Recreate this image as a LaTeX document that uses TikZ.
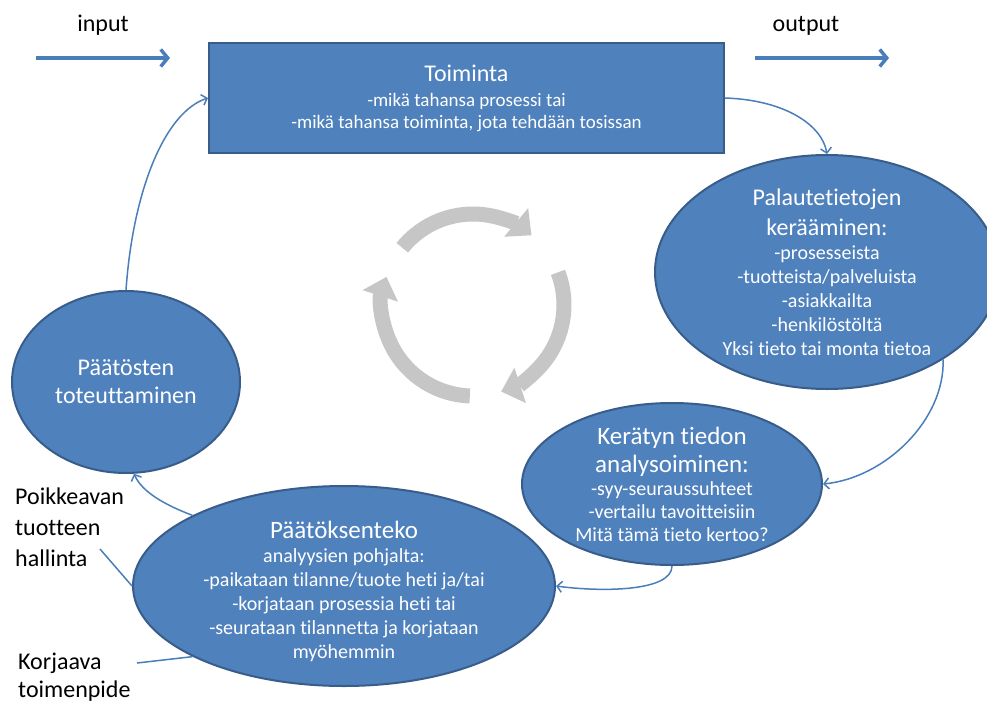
\documentclass[tikz,border=0pt]{standalone}
\usepackage{fontspec}
\setmainfont{Carlito}[Ligatures={NoCommon}]
\usetikzlibrary{arrows.meta,shapes.geometric}
\definecolor{boxblue}{HTML}{4F81BD}
\definecolor{edgeblue}{HTML}{385D8A}
\definecolor{linkblue}{HTML}{4A7EBB}
\definecolor{cyclegray}{HTML}{C6C6C6}
\newcommand\ttl[1]{{\fontsize{24}{24}\selectfont #1}}
\tikzset{
  shapefill/.style={fill=boxblue, draw=edgeblue, line width=2pt},
  ell/.style={shapefill, ellipse, inner sep=0pt},
  intext/.style={text=white, align=center, inner sep=0pt},
  sidelabel/.style={text=black, inner sep=0pt, align=left},
  link/.style={draw=linkblue, line width=1.5pt, -{Straight Barb[length=5pt,width=11pt]}},
  plainlink/.style={draw=linkblue, line width=1.5pt},
  flow/.style={draw=linkblue, line width=3.5pt, -{Straight Barb[length=7pt,width=17pt]}},
  cyc/.style={draw=cyclegray, line width=15pt, -{Triangle[length=20pt,width=36pt]}},
}
\begin{document}
\begin{tikzpicture}[x=1pt,y=-1pt]
\useasboundingbox[fill=white] (0,0) rectangle (987,704);

% input / output
\node[anchor=base, inner sep=0pt, font=\fontsize{24}{28}\selectfont] (inlbl) at (103,31) {input};
\node[anchor=base, inner sep=0pt, font=\fontsize{24}{28}\selectfont] (outlbl) at (806,31) {output};
\coordinate (inS) at (36,58);
\coordinate (inE) at (170,58);
\coordinate (outS) at (755,58);
\coordinate (outE) at (889,58);
\draw[flow] (inS) -- (inE);
\draw[flow] (outS) -- (outE);

% main rectangle
\node[shapefill, rectangle, minimum width=515pt, minimum height=110pt, inner sep=0pt] (toim) at (466.5,98) {};
\node[intext, font=\fontsize{19}{22}\selectfont] (toimT) at (toim.center)
  {\ttl{Toiminta}\\[3pt]-mikä tahansa prosessi tai\\-mikä tahansa toiminta, jota tehdään tosissan};

% ellipses
\node[ell, minimum width=344pt, minimum height=234pt] (pal) at (827,272) {};
\node[intext, font=\fontsize{20}{24}\selectfont] (palT) at (pal.center)
  {\ttl{Palautetietojen}\\[6pt]\ttl{kerääminen:}\\-prosesseista\\-tuotteista/palveluista\\-asiakkailta\\-henkilöstöltä\\Yksi tieto tai monta tietoa};

\node[ell, minimum width=300pt, minimum height=162pt] (ker) at (672,484) {};
\node[intext, font=\fontsize{20}{23}\selectfont] (kerT) at (ker.center)
  {{\fontsize{25}{25}\selectfont Kerätyn tiedon}\\[5pt]{\fontsize{25}{25}\selectfont analysoiminen:}\\-syy-seuraussuhteet\\-vertailu tavoitteisiin\\Mitä tämä tieto kertoo?};

\node[ell, minimum width=422pt, minimum height=200pt] (pat) at (344,586) {};
\node[intext, font=\fontsize{20}{24}\selectfont] (patT) at ([yshift=-5pt]pat.center)
  {{\fontsize{25}{25}\selectfont Päätöksenteko}\\analyysien pohjalta:\\-paikataan tilanne/tuote heti ja/tai\\-korjataan prosessia heti tai\\-seurataan tilannetta ja korjataan\\myöhemmin};

\node[ell, minimum width=228pt, minimum height=182pt] (paa) at (126,382) {};
\node[intext, font=\fontsize{24}{28}\selectfont] (paaT) at (paa.center)
  {Päätösten\\toteuttaminen};

% side labels
\node[sidelabel, anchor=north west, font=\fontsize{24}{31}\selectfont] (poik) at (15,488) {Poikkeavan\\tuotteen\\hallinta};
\node[sidelabel, anchor=north west, font=\fontsize{24}{28}\selectfont] (korj) at (18,653) {Korjaava\\toimenpide};
\coordinate (hallEnd) at (100,549);
\coordinate (korjEnd) at (137,663);

% cycle connectors
\draw[link] (paa.north) .. controls (133,190) and (165,112) .. (toim.west);
\draw[link] (toim.east) .. controls (785,100) and (822,125) .. (pal.north);
\draw[link] (pal.-37) .. controls (945,420) and (885,478) .. (ker.east);
\draw[link] (ker.south) .. controls (672,592) and (600,592) .. (pat.east);
\draw[link] (pat.155) .. controls (165,505) and (142,492) .. (paa.-85);
\draw[plainlink] (hallEnd) -- (pat.west);
\draw[plainlink] (korjEnd) -- (pat.205);

% central cycle arrows
\coordinate (cen) at (473,305);
\draw[cyc] (cen) ++(-141:91) arc[start angle=-141, end angle=-50, radius=91];
\draw[cyc] (cen) ++(-21:91) arc[start angle=-21, end angle=72, radius=91];
\draw[cyc] (cen) ++(92:91) arc[start angle=92, end angle=198, radius=91];
\end{tikzpicture}
\end{document}
